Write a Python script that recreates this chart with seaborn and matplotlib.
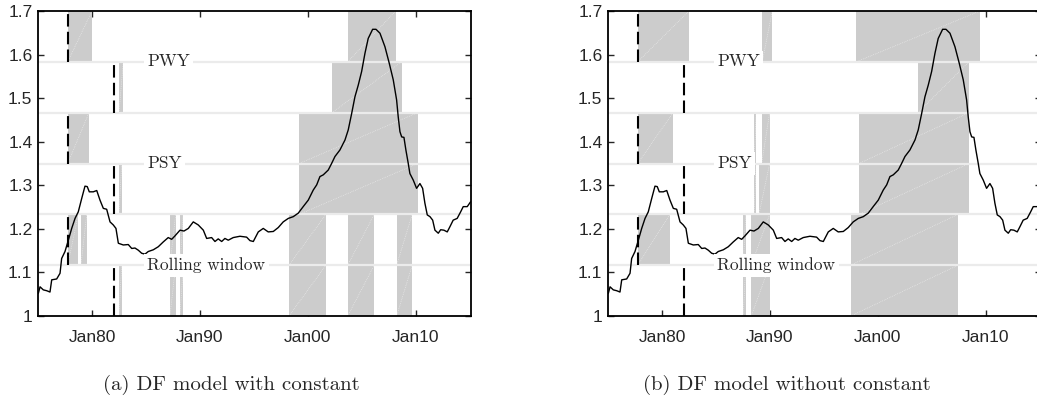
import matplotlib
matplotlib.use("Agg")
import matplotlib.pyplot as plt
import pandas as pd
import seaborn as sns

# house price ratio series (same in both panels)
years = [1975.03, 1975.19, 1975.49, 1975.81, 1976.11, 1976.27, 1976.73, 1977.04, 1977.19, 1977.50,
         1977.81, 1978.12, 1978.43, 1978.73, 1979.05, 1979.35, 1979.56, 1979.75, 1980.12, 1980.44,
         1980.74, 1981.05, 1981.36, 1981.67, 1981.97, 1982.22, 1982.44, 1982.90, 1983.36, 1983.68,
         1983.98, 1984.29, 1984.60, 1984.91, 1985.21, 1985.68, 1986.14, 1986.60, 1987.06, 1987.38,
         1987.69, 1988.15, 1988.52, 1988.92, 1989.38, 1989.84, 1990.31, 1990.62, 1991.08, 1991.39,
         1991.69, 1992.01, 1992.31, 1992.62, 1993.08, 1993.70, 1994.32, 1994.63, 1994.94, 1995.40,
         1995.86, 1996.32, 1996.79, 1997.25, 1997.71, 1998.18, 1998.64, 1999.10, 1999.56, 2000.03,
         2000.49, 2000.81, 2001.11, 2001.42, 2001.88, 2002.19, 2002.50, 2002.96, 2003.43, 2003.73,
         2004.05, 2004.35, 2004.66, 2004.97, 2005.28, 2005.58, 2005.99, 2006.30, 2006.67, 2007.13,
         2007.53, 2007.90, 2008.21, 2008.36, 2008.52, 2008.68, 2008.89, 2009.07, 2009.29, 2009.44,
         2009.75, 2010.06, 2010.37, 2010.62, 2010.83, 2011.05, 2011.30, 2011.55, 2011.76, 2012.07,
         2012.29, 2012.59, 2012.90, 2013.15, 2013.45, 2013.82, 2014.14, 2014.38, 2014.75, 2015.06]
ratio = [1.052, 1.067, 1.060, 1.058, 1.055, 1.083, 1.085, 1.098, 1.132, 1.148,
         1.174, 1.201, 1.224, 1.239, 1.270, 1.298, 1.297, 1.285, 1.285, 1.288,
         1.266, 1.247, 1.245, 1.216, 1.209, 1.201, 1.167, 1.163, 1.164, 1.155,
         1.156, 1.151, 1.144, 1.142, 1.148, 1.152, 1.159, 1.170, 1.180, 1.176,
         1.184, 1.197, 1.195, 1.201, 1.216, 1.209, 1.197, 1.178, 1.180, 1.171,
         1.177, 1.171, 1.178, 1.174, 1.180, 1.183, 1.181, 1.173, 1.171, 1.193,
         1.201, 1.193, 1.194, 1.203, 1.216, 1.224, 1.228, 1.236, 1.251, 1.266,
         1.289, 1.301, 1.320, 1.324, 1.335, 1.350, 1.366, 1.381, 1.404, 1.427,
         1.465, 1.503, 1.530, 1.561, 1.603, 1.637, 1.658, 1.658, 1.649, 1.618,
         1.580, 1.542, 1.496, 1.457, 1.423, 1.411, 1.410, 1.381, 1.350, 1.327,
         1.312, 1.293, 1.304, 1.293, 1.259, 1.232, 1.228, 1.220, 1.197, 1.190,
         1.198, 1.197, 1.193, 1.205, 1.220, 1.224, 1.239, 1.251, 1.251, 1.262]

# bubble periods per band, top band first: PWY x2, PSY x2, rolling window x2
const_periods = [
    [(1977.75, 1980.0), (2003.68, 2008.12)],
    [(1982.5, 1982.9), (2002.22, 2008.68)],
    [(1977.75, 1979.72), (1999.19, 2010.16)],
    [(1982.5, 1982.75), (1999.19, 2010.16)],
    [(1977.75, 1978.73), (1978.98, 1979.51), (1987.22, 1987.75), (1988.15, 1988.45),
     (1998.24, 2001.67), (2003.68, 2006.14), (2008.21, 2009.66)],
    [(1982.5, 1982.75), (1987.22, 1987.75), (1988.15, 1988.45),
     (1998.24, 2001.67), (2003.68, 2006.14), (2008.21, 2009.66)],
]
noconst_periods = [
    [(1977.75, 1982.5), (1989.29, 1990.21), (1997.99, 2009.44)],
    [(2003.70, 2008.43)],
    [(1977.75, 1981.02), (1988.52, 1988.73), (1989.23, 1989.97), (1998.24, 2008.43)],
    [(1988.52, 1988.73), (1988.98, 1989.97), (1998.24, 2008.43)],
    [(1977.75, 1980.74), (1987.53, 1987.75), (1988.27, 1989.97), (1997.47, 2007.43)],
    [(1987.53, 1987.75), (1988.27, 1989.97), (1997.47, 2007.43)],
]
dash_dates = [1977.75, 1982.0]   # upper bands / lower bands
method_labels = ["PWY", "PSY", "Rolling window"]
captions = ["(a) DF model with constant", "(b) DF model without constant"]
xtick_pos = [1980, 1990, 2000, 2010]
xtick_labels = ["Jan80", "Jan90", "Jan00", "Jan10"]
ytick_pos = [1.0, 1.1, 1.2, 1.3, 1.4, 1.5, 1.6, 1.7]
ytick_labels = ["1", "1.1", "1.2", "1.3", "1.4", "1.5", "1.6", "1.7"]

sns.set_style("ticks")
plt.rcParams['font.family'] = ['Liberation Sans', 'DejaVu Sans']

df = pd.DataFrame({"date": years, "ratio": ratio})

fig = plt.figure(figsize=(10.37, 4.12), dpi=100)
ax1 = fig.add_axes([38 / 1037, 1 - 316 / 412, 433 / 1037, 305 / 412])
ax2 = fig.add_axes([608 / 1037, 1 - 316 / 412, 433 / 1037, 305 / 412])

ylo, yhi = 1.0, 1.7
step = (yhi - ylo) / 6

for ax, periods, cap, cx in [(ax1, const_periods, captions[0], 231),
                             (ax2, noconst_periods, captions[1], 787)]:
    for i, band in enumerate(periods):
        b0 = ylo + (5 - i) * step
        b1 = b0 + step
        for a, b in band:
            ax.axvspan(a, b, ymin=(5 - i) / 6, ymax=(6 - i) / 6,
                       color="#cccccc", lw=0, zorder=1)
            ax.plot([a, b], [b0, b1], color="white", lw=0.5, ls=":", alpha=0.7, zorder=1.5)
        # dashed date marker
        d = dash_dates[i % 2]
        ax.vlines(d, b0, b1, colors="black", lw=1.5, linestyles=(0, (6, 2.5)), zorder=2.5)
    for k in range(1, 6):
        ax.axhline(ylo + k * step, color="#ebebeb", lw=1.6, zorder=2)

    sns.lineplot(data=df, x="date", y="ratio", color="black", lw=1.0, ax=ax, zorder=3)

    for j, lab in enumerate(method_labels):
        ax.text(1985.1, ylo + (5 - 2 * j) * step, lab, family="cmr10", fontsize=12.5,
                ha="left", va="center", zorder=4,
                bbox=dict(facecolor="white", edgecolor="none", pad=2.5))

    ax.set_xlim(1975.0, 2015.1)
    ax.set_ylim(ylo, yhi)
    ax.set_xticks(xtick_pos)
    ax.set_xticklabels(xtick_labels, family=["Liberation Sans Narrow", "Liberation Sans"])
    ax.set_yticks(ytick_pos)
    ax.set_yticklabels(ytick_labels)
    ax.set_xlabel("")
    ax.set_ylabel("")
    ax.tick_params(direction="in", top=True, right=True, length=4, width=1, labelsize=12.5)
    ax.tick_params(axis="x", pad=10)
    ax.tick_params(axis="y", pad=4)
    for s in ax.spines.values():
        s.set_linewidth(1.3)
        s.set_color("black")

    fig.text(cx / 1037, 1 - 385 / 412, cap, family="cmr10", fontsize=15,
             ha="center", va="center")

fig.savefig("out.png", dpi=100)
